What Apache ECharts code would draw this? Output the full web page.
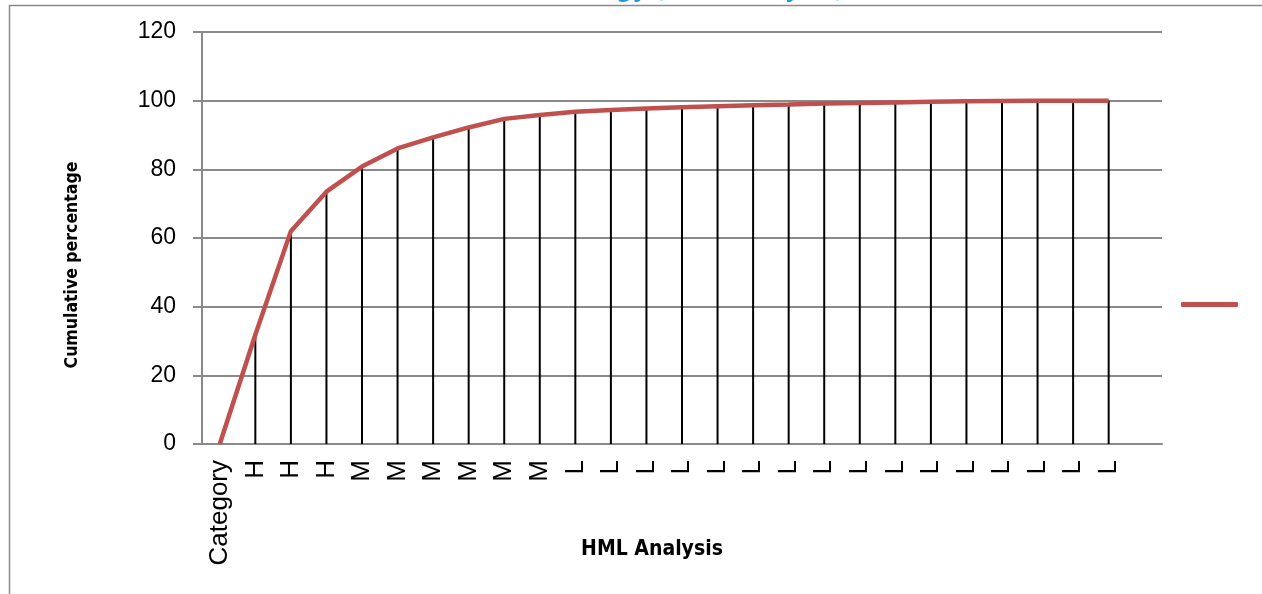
<!DOCTYPE html>
<html>
<head>
<meta charset="utf-8">
<script src="https://cdn.jsdelivr.net/npm/echarts@6/dist/echarts.min.js"></script>
<style>
html,body{margin:0;padding:0;background:#fff;}
#chart{width:1262px;height:594px;}
</style>
</head>
<body>
<div id="chart"></div>
<script>
const categories = ['Category','H','H','H','M','M','M','M','M','M','L','L','L','L','L','L','L','L','L','L','L','L','L','L','L','L',''];
const cumulative = [0,31.8,62,73.5,80.8,86.1,89.3,92.2,94.7,95.8,96.8,97.3,97.7,98.1,98.4,98.7,98.9,99.2,99.3,99.5,99.7,99.8,99.9,99.95,100,100,null];
const yTicks = {min:0, max:120, interval:20};
const titleText = 'Strategy (HML Analysis)';
const xName = 'HML Analysis';
const yName = 'Cumulative percentage';
const seriesName = 'Cumulative percentage';

const narrow = '"DejaVu Sans Condensed", "Liberation Sans", sans-serif';
const chart = echarts.init(document.getElementById('chart'), null, {renderer:'canvas'});
const grey = '#8a8a8a';
chart.setOption({
  animation:false,
  backgroundColor:'#fff',
  title:{
    text:titleText, left:532, top:-27,
    textStyle:{color:'#1E9BE0', fontSize:25, fontWeight:'bold', fontFamily:narrow}
  },
  graphic:[{
    type:'rect', left:7, top:3, silent:true,
    shape:{width:1400, height:700},
    style:{fill:'none', stroke:grey, lineWidth:1.5}, z:-10
  }],
  legend:{
    show:true, left:1176, top:297, orient:'vertical',
    data:[{name:seriesName, icon:'roundRect'}],
    itemWidth:57, itemHeight:5,
    formatter:()=>'',
    selectedMode:false
  },
  grid:{left:202, right:100, top:32, bottom:150, containLabel:false, outerBoundsMode:'none'},
  xAxis:{
    type:'category', data:categories, boundaryGap:true,
    axisLine:{show:true, lineStyle:{color:grey, width:2}},
    axisTick:{show:false},
    axisLabel:{rotate:90, interval:0, margin:16, color:'#000', fontSize:26, fontFamily:'Liberation Sans'},
    name:xName, nameLocation:'middle', nameGap:95, nameMoveOverlap:false,
    nameTextStyle:{color:'#000', fontSize:21, fontWeight:'bold', fontFamily:narrow, padding:[0,60,0,0]}
  },
  yAxis:{
    type:'value', min:yTicks.min, max:yTicks.max, interval:yTicks.interval,
    axisLine:{show:true, lineStyle:{color:grey, width:2}},
    axisTick:{show:true, length:9, lineStyle:{color:grey, width:2}},
    splitLine:{show:true, lineStyle:{color:grey, width:2}},
    axisLabel:{margin:26, color:'#000', fontSize:23, fontFamily:'Liberation Sans'},
    name:yName, nameLocation:'middle', nameGap:121, nameRotate:90, nameMoveOverlap:false,
    nameTextStyle:{color:'#000', fontSize:17.5, fontWeight:'bold', fontFamily:narrow, padding:[0,54,0,0]}
  },
  series:[
    {
      name:'drop', type:'bar', data:cumulative, barWidth:2, barGap:'-100%',
      itemStyle:{color:'#000'}, z:2, legendHoverLink:false, silent:true
    },
    {
      name:seriesName, type:'line', data:cumulative, showSymbol:false, symbol:'none',
      lineStyle:{color:'#C0504D', width:4.5}, itemStyle:{color:'#C0504D'}, z:5
    }
  ]
});
</script>
</body>
</html>
